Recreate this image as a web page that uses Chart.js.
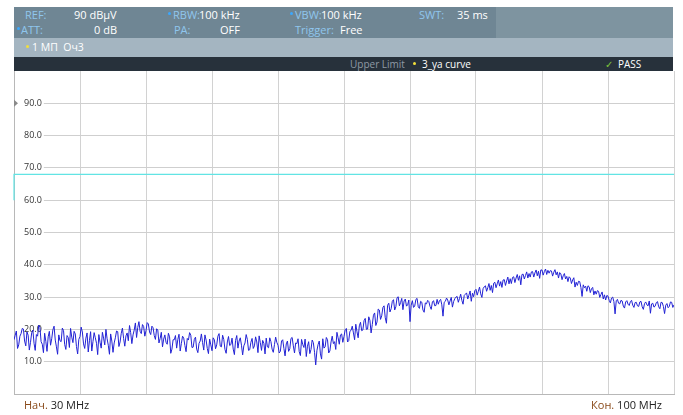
<!DOCTYPE html>
<html>
<head>
<meta charset="utf-8">
<script src="https://cdn.jsdelivr.net/npm/chart.js@4/dist/chart.umd.min.js"></script>
<style>
  html,body{margin:0;padding:0;background:#fff;}
  #wrap{position:relative;width:683px;height:415px;overflow:hidden;font-family:"Open Sans",sans-serif;}
  canvas{position:absolute;left:0;top:0;}
  .box{position:absolute;}
  .t{position:absolute;white-space:nowrap;font-size:11px;line-height:14px;}
  .lbl{color:#8fc6ee;}
  .val{color:#ffffff;}
  .bd{position:absolute;width:3px;height:3px;border-radius:50%;background:#3aa8ff;}
  .yd{position:absolute;width:3px;height:3px;border-radius:50%;background:#f2e03a;}
</style>
</head>
<body>
<div id="wrap">
  <canvas id="c" width="683" height="415"></canvas>
  <!-- header -->
  <div class="box" style="left:14px;top:7px;width:482px;height:31px;background:#6f8694;"></div>
  <div class="box" style="left:496px;top:7px;width:177px;height:31px;background:#7e94a0;"></div>
  <div class="box" style="left:14px;top:38px;width:659px;height:19px;background:#a4b5c1;"></div>
  <div class="box" style="left:14px;top:57px;width:659px;height:14px;background:#27313b;"></div>

  <span class="t lbl" style="left:25px;top:8px;">REF:</span>
  <span class="t val" style="left:74px;top:8px;">90 dBµV</span>
  <div class="bd" style="left:168px;top:12px;"></div>
  <span class="t lbl" style="left:173px;top:8px;">RBW:</span>
  <span class="t val" style="left:199px;top:8px;">100 kHz</span>
  <div class="bd" style="left:290px;top:12px;"></div>
  <span class="t lbl" style="left:295px;top:8px;">VBW:</span>
  <span class="t val" style="left:321px;top:8px;">100 kHz</span>
  <span class="t lbl" style="left:419px;top:8px;">SWT:</span>
  <span class="t val" style="left:457px;top:8px;">35 ms</span>

  <div class="bd" style="left:17px;top:27px;"></div>
  <span class="t lbl" style="left:21px;top:23px;">ATT:</span>
  <span class="t val" style="left:94px;top:23px;">0 dB</span>
  <span class="t lbl" style="left:174px;top:23px;">PA:</span>
  <span class="t val" style="left:220px;top:23px;">OFF</span>
  <span class="t lbl" style="left:295px;top:23px;">Trigger:</span>
  <span class="t val" style="left:340px;top:23px;">Free</span>

  <div class="yd" style="left:26px;top:45px;"></div>
  <span class="t val" style="left:32px;top:40px;font-size:10.5px;">1 МП&nbsp; Оч3</span>

  <span class="t" style="left:350px;top:57px;font-size:10px;color:#8f9aa5;">Upper Limit</span>
  <div class="yd" style="left:413px;top:62px;"></div>
  <span class="t val" style="left:422px;top:57px;font-size:10px;">3_ya curve</span>
  <span class="t" style="left:605px;top:57px;font-size:10px;color:#7cc43a;">✓</span>
  <span class="t val" style="left:618px;top:57px;font-size:10px;">PASS</span>

  <!-- footer -->
  <span class="t" style="left:24px;top:398px;color:#222;"><span style="color:#8a4a1a;">Нач.</span> 30 MHz</span>
  <span class="t" style="right:21px;top:398px;color:#222;"><span style="color:#8a4a1a;">Кон.</span> 100 MHz</span>
</div>
<script>
// ---- data ----
const startFreq = 30;      // MHz
const stopFreq = 100;      // MHz
const freqStep = 0.125;    // MHz between trace points
const xGridFreqs = [30, 37, 44, 51, 58, 65, 72, 79, 86, 93, 100];
const yTickValues = [10, 20, 30, 40, 50, 60, 70, 80, 90];
const refLevel = 90;
// trace level (dBµV), one value every 0.125 MHz from 30 MHz (8 per MHz)
const traceLevels = [
  16.8,18.2,19.5,14.1,15.2,17.9,18.7,20.3,
  20.1,16.4,14.9,19.2,18.2,13.6,16.0,18.9,
  19.8,15.7,13.5,18.4,17.9,21.3,20.6,16.2,
  15.4,12.8,18.8,16.3,13.2,17.7,19.4,15.1,
  17.1,19.9,21.0,16.7,14.6,12.3,18.3,16.5,
  16.2,20.4,19.7,15.3,13.8,18.1,17.5,14.4,
  20.3,17.6,15.9,19.4,18.6,14.7,12.4,16.9,
  17.8,20.7,19.2,15.5,14.1,17.3,18.9,13.0,
  16.5,19.3,13.3,16.2,19.0,17.4,15.7,12.2,
  18.4,16.0,14.2,19.1,17.3,15.2,20.0,17.1,
  15.1,12.3,18.6,16.4,12.9,15.8,17.4,19.5,
  19.3,14.7,16.1,18.8,20.4,17.2,14.8,18.0,
  18.9,16.5,21.2,19.0,15.6,18.3,19.8,22.0,
  17.5,20.6,22.4,19.4,18.7,21.5,20.9,17.9,
  19.6,22.1,21.7,19.2,18.4,21.0,20.5,18.1,
  16.9,20.2,19.8,15.8,17.2,19.1,14.6,17.0,
  18.3,16.0,15.4,18.8,17.7,12.6,13.9,16.8,
  16.8,18.1,14.2,16.9,18.5,13.3,15.6,17.9,
  17.3,15.0,13.1,17.2,16.7,19.0,18.2,14.4,
  14.5,16.9,17.6,13.9,12.8,15.7,16.4,18.6,
  15.9,13.6,18.3,16.7,14.1,12.5,17.0,15.2,
  13.4,17.4,16.8,14.0,15.2,17.9,18.7,14.8,
  14.6,18.2,16.9,13.8,12.6,16.1,17.8,15.0,
  15.3,17.3,13.9,12.2,16.6,18.1,14.2,16.4,
  17.4,15.1,12.1,14.9,15.8,18.4,16.9,13.5,
  13.7,16.0,17.2,14.1,14.9,17.7,16.1,12.8,
  18.0,15.9,13.5,16.6,15.7,12.4,17.3,14.6,
  14.3,17.4,16.2,13.9,12.9,15.3,17.6,16.0,
  15.1,12.7,13.2,16.4,16.8,14.1,11.8,15.5,
  16.4,13.2,14.0,17.2,17.5,14.9,12.7,15.8,
  15.6,17.1,13.1,11.9,16.9,15.3,14.4,17.0,
  11.6,14.8,16.2,12.5,13.8,16.7,15.9,12.9,
  9.0,13.4,15.3,16.4,12.4,10.8,17.1,14.2,
  14.6,17.5,16.8,12.7,13.3,16.1,17.9,15.6,
  16.2,13.8,19.1,17.4,15.4,18.3,18.6,16.0,
  17.8,19.9,20.3,16.1,16.5,19.4,19.7,21.0,
  18.9,16.8,21.6,19.3,17.4,21.1,22.2,19.6,
  19.8,22.7,23.4,20.0,20.1,23.9,22.8,18.9,
  21.5,24.4,25.1,21.2,22.3,26.3,26.0,23.1,
  24.2,26.8,27.3,23.6,21.9,27.5,28.1,25.4,
  26.4,28.7,29.2,26.0,27.0,29.8,30.1,27.3,
  28.3,29.6,26.1,28.8,29.4,27.2,27.6,29.1,
  22.4,27.5,28.9,26.8,27.2,29.3,29.6,27.0,
  26.5,28.7,28.4,26.0,25.3,28.2,27.9,29.0,
  28.6,27.1,26.2,28.5,28.9,27.3,27.4,29.3,
  27.8,28.9,29.3,27.6,24.1,28.4,28.7,29.7,
  29.1,27.6,28.8,29.9,26.9,28.6,29.5,30.0,
  30.2,28.4,29.6,30.9,29.0,27.8,30.5,30.9,
  31.3,29.4,30.6,31.9,28.7,31.2,30.1,32.0,
  32.4,30.6,31.8,33.1,31.0,29.9,32.6,33.2,
  33.5,31.8,32.9,34.2,32.1,33.6,31.4,34.3,
  34.6,32.9,34.1,35.3,33.4,34.8,33.0,35.3,
  35.4,33.6,35.0,36.2,34.1,35.7,34.2,36.1,
  36.3,34.5,35.9,37.0,35.2,36.6,33.8,37.0,
  37.1,35.6,36.7,37.8,35.9,37.3,36.2,37.8,
  37.9,36.2,37.5,38.4,36.6,38.0,35.8,38.4,
  38.4,36.8,37.9,38.7,37.0,38.3,37.4,38.2,
  38.1,36.5,37.7,38.5,36.9,37.8,35.9,37.6,
  37.2,35.4,36.6,37.3,35.6,36.4,34.8,36.3,
  35.9,34.2,35.3,36.0,33.1,34.6,33.6,34.9,
  34.8,33.0,30.2,33.8,32.9,33.4,31.8,33.5,
  33.2,31.4,32.6,33.0,30.7,31.9,30.9,32.0,
  31.8,29.9,30.8,31.6,29.4,30.7,29.1,30.5,
  30.3,29.0,28.2,29.7,30.0,28.6,24.8,28.9,
  29.3,28.1,27.9,29.0,28.8,27.2,26.6,28.5,
  28.9,27.8,27.4,28.6,29.0,27.5,26.8,28.3,
  28.4,27.3,27.1,28.5,28.7,27.0,26.2,28.0,
  28.5,27.6,27.3,28.8,25.0,27.9,28.1,26.9,
  27.2,28.3,28.6,27.0,26.4,28.4,28.3,27.1,
  24.9,27.5,28.0,26.7,27.1,28.5,28.4,26.8,
  27.6
];
// upper limit line ("3_ya curve")
const limitFreqs  = [30, 30, 100];
const limitLevels = [60, 68, 68];

// ---- build ----
const tracePts = traceLevels.map((v, i) => ({x: startFreq + i * freqStep, y: v}));
const limitPts = limitFreqs.map((f, i) => ({x: f, y: limitLevels[i]}));

const refMarker = {
  id: 'refMarker',
  afterDraw(chart) {
    const ctx = chart.ctx, y = chart.scales.y.getPixelForValue(refLevel), x = chart.chartArea.left;
    ctx.save();
    ctx.fillStyle = '#8a8a8a';
    ctx.beginPath();
    ctx.moveTo(x, y - 3.5); ctx.lineTo(x + 4, y); ctx.lineTo(x, y + 3.5); ctx.closePath();
    ctx.fill();
    ctx.restore();
  }
};

new Chart(document.getElementById('c'), {
  type: 'line',
  data: {
    datasets: [
      {data: limitPts, borderColor: '#62e4e4', borderWidth: 1.2, pointRadius: 0, tension: 0, order: 1, clip: 3},
      {data: tracePts, borderColor: '#2222d4', borderWidth: 1, pointRadius: 0, tension: 0, order: 2}
    ]
  },
  options: {
    responsive: false,
    animation: false,
    events: [],
    layout: {padding: {left: 14, top: 71, right: 9, bottom: 21}},
    plugins: {legend: {display: false}, tooltip: {enabled: false}},
    scales: {
      x: {
        type: 'linear', min: startFreq, max: stopFreq,
        afterBuildTicks: (s) => { s.ticks = xGridFreqs.map(v => ({value: v})); },
        afterFit: (s) => { s.height = 0; },
        ticks: {display: false},
        grid: {color: '#d2d2d2', drawTicks: false, lineWidth: 1},
        border: {display: true, color: '#b8b8b8'}
      },
      y: {
        type: 'linear', min: 0, max: 100,
        afterBuildTicks: (s) => { s.ticks = yTickValues.map(v => ({value: v})); },
        afterFit: (s) => { s.width = 0; },
        ticks: {
          mirror: true, padding: 10, color: '#333',
          font: {family: 'Open Sans', size: 9},
          callback: (v) => Number(v).toFixed(1),
          showLabelBackdrop: true, backdropColor: '#ffffff',
          backdropPadding: {left: 9, right: 2, top: 2, bottom: 2}
        },
        grid: {color: '#cfcfcf', drawTicks: false, lineWidth: 1},
        border: {display: true, color: '#b8b8b8'}
      }
    }
  },
  plugins: [refMarker]
});
</script>
</body>
</html>
